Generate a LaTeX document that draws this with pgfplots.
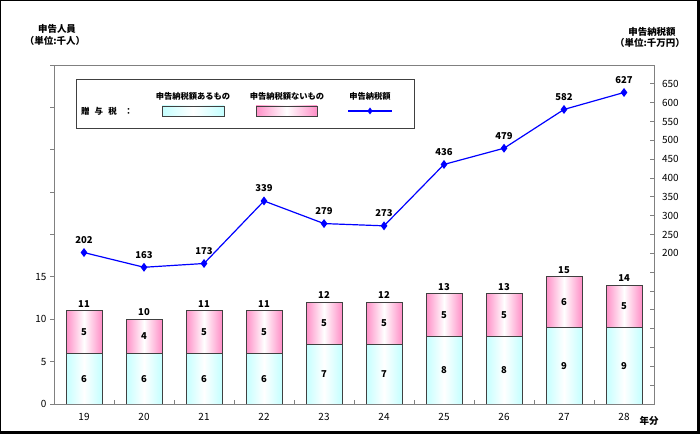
\documentclass[border=0pt]{standalone}
\usepackage{pgfplots}
\pgfplotsset{compat=1.18}
\usepackage{fontspec}
\setmainfont{Noto Sans CJK JP}
\definecolor{barcyan}{HTML}{C4FFFF}
\definecolor{barpink}{HTML}{FF8FC7}
\definecolor{axgray}{HTML}{808080}
\definecolor{edgegray}{HTML}{404040}
\pgfplotsset{
  pinkbar/.style={ybar, bar width=36bp, bar shift=0pt, draw=edgegray, line width=0.9bp,
    left color=barpink, right color=barpink, middle color=white},
  cyanbar/.style={ybar, bar width=36bp, bar shift=0pt, draw=edgegray, line width=0.9bp,
    left color=barcyan, right color=barcyan, middle color=white},
}
\newcommand\pbar[2]{\addplot[pinkbar] coordinates {(#1,#2)};}
\newcommand\cbar[2]{\addplot[cyanbar] coordinates {(#1,#2)};}
\begin{document}
\begin{tikzpicture}[x=1bp,y=1bp]
\path[use as bounding box] (0,0) rectangle (700,434);
\begin{axis}[
  at={(54bp,30bp)}, anchor=south west,
  width=600bp, height=339bp, scale only axis,
  xmin=-0.5, xmax=9.5, ymin=0, ymax=40,
  axis line style={axgray, line width=0.8bp},
  xtick={0.5,1.5,...,8.5}, xticklabels={},
  extra x ticks={0,...,9},
  extra x tick labels={19,20,21,22,23,24,25,26,27,28},
  extra x tick style={major tick length=0pt},
  ytick={0,5,...,40},
  yticklabels={0,5,10,15,{},{},{},{},{}},
  ytick pos=left, xtick pos=bottom,
  ytick align=outside,
  major tick length=4bp,
  tick style={axgray, line width=0.8bp},
  tick label style={font=\fontsize{10}{12}\selectfont},
  xticklabel style={yshift=-6bp},
]
% totals (pink: non-taxed on top of taxed)
\pbar{0}{11}\pbar{1}{10}\pbar{2}{11}\pbar{3}{11}\pbar{4}{12}
\pbar{5}{12}\pbar{6}{13}\pbar{7}{13}\pbar{8}{15}\pbar{9}{14}
% taxed (cyan)
\cbar{0}{6}\cbar{1}{6}\cbar{2}{6}\cbar{3}{6}\cbar{4}{7}
\cbar{5}{7}\cbar{6}{8}\cbar{7}{8}\cbar{8}{9}\cbar{9}{9}
% total labels
\addplot[draw=none, mark=none,
  nodes near coords={\pgfplotspointmeta}, point meta=explicit symbolic,
  every node near coord/.style={anchor=south, font=\bfseries\fontsize{9.5}{11}\selectfont}]
  coordinates {(0,11)[11] (1,10)[10] (2,11)[11] (3,11)[11] (4,12)[12] (5,12)[12] (6,13)[13] (7,13)[13] (8,15)[15] (9,14)[14]};
\addplot[draw=none, mark=none,
  nodes near coords={\pgfplotspointmeta}, point meta=explicit symbolic,
  every node near coord/.style={anchor=center, font=\bfseries\fontsize{9.5}{11}\selectfont}]
  coordinates {(0,3)[6] (1,3)[6] (2,3)[6] (3,3)[6] (4,3.5)[7] (5,3.5)[7] (6,4)[8] (7,4)[8] (8,4.5)[9] (9,4.5)[9]};
\addplot[draw=none, mark=none,
  nodes near coords={\pgfplotspointmeta}, point meta=explicit symbolic,
  every node near coord/.style={anchor=center, font=\bfseries\fontsize{9.5}{11}\selectfont}]
  coordinates {(0,8.5)[5] (1,8)[4] (2,8.5)[5] (3,8.5)[5] (4,9.5)[5] (5,9.5)[5] (6,10.5)[5] (7,10.5)[5] (8,12)[6] (9,11.5)[5]};
\end{axis}
\begin{axis}[
  at={(54bp,30bp)}, anchor=south west,
  width=600bp, height=339bp, scale only axis,
  xmin=-0.5, xmax=9.5, ymin=-200, ymax=700,
  axis x line=none, axis y line*=right,
  axis line style={axgray, line width=0.8bp},
  ytick={-200,-150,...,700},
  yticklabels={{},{},{},{},{},{},{},{},200,250,300,350,400,450,500,550,600,650,{}},
  major tick length=4bp,
  tick style={axgray, line width=0.8bp},
  tick label style={font=\fontsize{10}{12}\selectfont},
  yticklabel style={xshift=4.5bp},
]
\addplot[blue, line width=1.2bp, mark=diamond*, mark size=3.5bp, mark options={fill=blue, draw=blue},
  nodes near coords={\pgfplotspointmeta}, point meta=explicit symbolic,
  every node near coord/.style={anchor=south, yshift=5bp, text=black, font=\bfseries\fontsize{9.5}{11}\selectfont}]
  coordinates {(0,202)[202] (1,163)[163] (2,173)[173] (3,339)[339] (4,279)[279] (5,273)[273] (6,436)[436] (7,479)[479] (8,582)[582] (9,627)[627]};
\end{axis}
% legend box
\draw[edgegray, line width=0.8bp, fill=white] (76,306) rectangle (414,355);
\node[font=\bfseries\fontsize{8.5}{10}\selectfont] at (107,323) {贈\hspace{0.6em}与\hspace{0.6em}税\hspace{0.9em}：};
\node[font=\bfseries\fontsize{8.3}{10}\selectfont] at (193,338) {申告納税額あるもの};
\node[font=\bfseries\fontsize{8.3}{10}\selectfont] at (287,338) {申告納税額ないもの};
\node[font=\bfseries\fontsize{8.3}{10}\selectfont] at (370,338) {申告納税額};
\draw[edgegray, line width=0.8bp, left color=barcyan, right color=barcyan, middle color=white] (162,318) rectangle (224,328);
\draw[edgegray, line width=0.8bp, left color=barpink, right color=barpink, middle color=white] (256,318) rectangle (317,328);
\draw[blue, line width=1.2bp] (348,323) -- (392,323);
\fill[blue] (370,326.5) -- (372.6,323) -- (370,319.5) -- (367.4,323) -- cycle;
% header texts
\node[font=\bfseries\fontsize{9.5}{11}\selectfont] at (57,405) {申告人員};
\node[font=\bfseries\fontsize{9.5}{11}\selectfont] at (55,393) {（単位:千人）};
\node[font=\bfseries\fontsize{9.5}{11}\selectfont] at (652,402) {申告納税額};
\node[font=\bfseries\fontsize{9.5}{11}\selectfont] at (650,391) {（単位:千万円）};
\node[font=\bfseries\fontsize{9.5}{11}\selectfont] at (649,13) {年分};
% outer frame: thin top/left, thicker right/bottom
\draw[black, line width=1.2bp] (0.6,0) -- (0.6,433.4) -- (700,433.4);
\draw[black, line width=3bp] (0,1.5) -- (698.5,1.5) -- (698.5,434);
\end{tikzpicture}
\end{document}
